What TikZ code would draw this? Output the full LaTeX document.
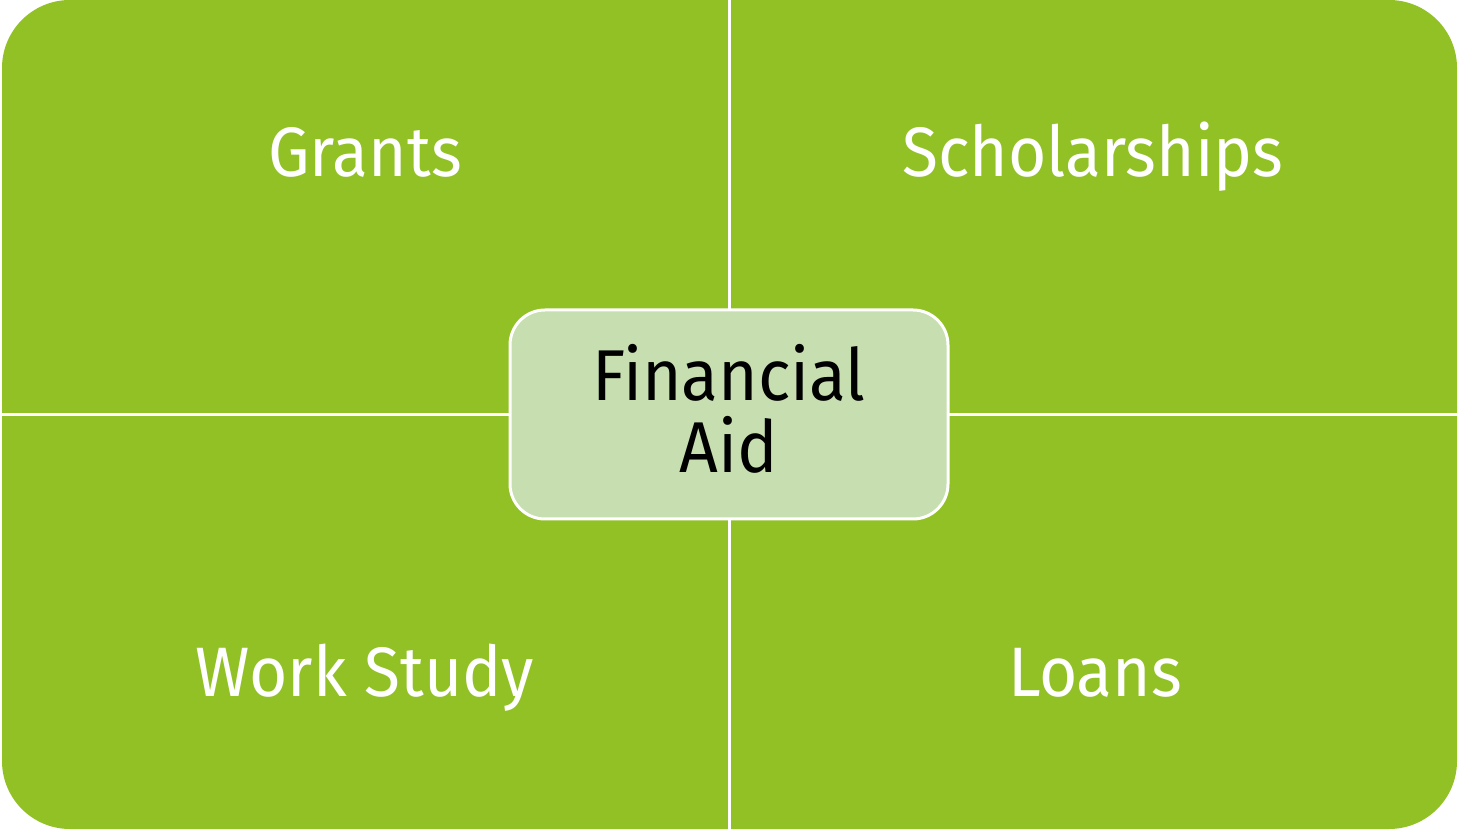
\documentclass[tikz,border=0pt]{standalone}
\usepackage{fontspec}
\setmainfont{Fira Sans}[FakeStretch=0.94]
\definecolor{aidgreen}{RGB}{146,193,37}
\definecolor{aidlight}{RGB}{198,222,176}
\begin{document}
\begin{tikzpicture}[x=1pt,y=1pt,
  quadlabel/.style={text=white,font=\fontsize{70}{72}\selectfont,inner sep=0pt,anchor=base},
  centerbox/.style={draw=white,line width=3pt,fill=aidlight,rounded corners=35pt,
    minimum width=438pt,minimum height=209pt,inner sep=0pt,align=center,text depth=12pt,
    font=\fontsize{72}{72}\selectfont,text=black},
  gapline/.style={draw=white,line width=3pt}]
\useasboundingbox (0,0) rectangle (1459,830);
\fill[white] (0,0) rectangle (1459,830);
\fill[aidgreen,rounded corners=68pt] (2,1) rectangle (1457,830);
\coordinate (top) at (729,830);
\coordinate (bottom) at (729,0);
\coordinate (left) at (0,415);
\coordinate (right) at (1459,415);
\draw[gapline] (top) -- (bottom);
\draw[gapline] (left) -- (right);
\node[quadlabel] (grants) at (365,653) {Grants};
\node[quadlabel] (scholarships) at (1093,653) {Scholarships};
\node[quadlabel] (workstudy) at (365,133) {Work Study};
\node[quadlabel] (loans) at (1095,133) {Loans};
\node[centerbox] (aid) at (729,415.5) {Financial\\Aid};
\end{tikzpicture}
\end{document}
